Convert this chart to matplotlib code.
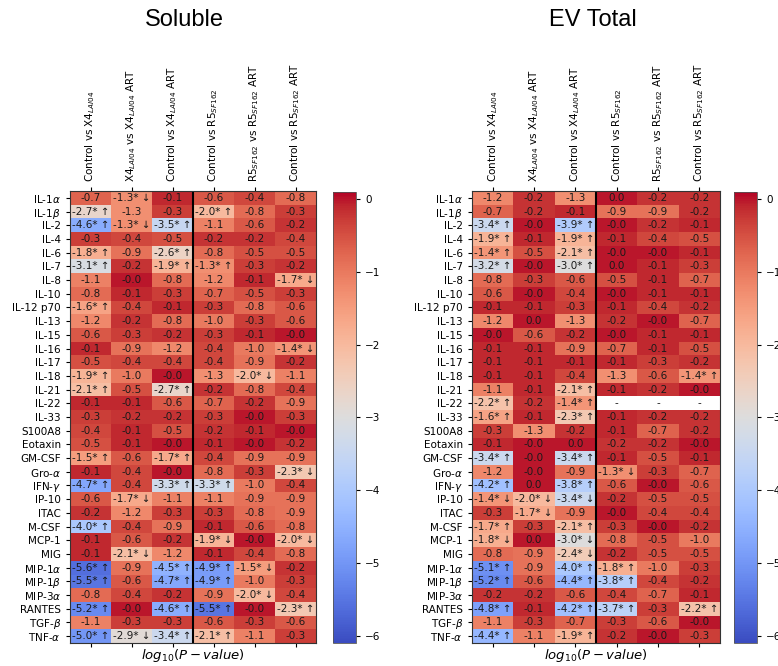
import numpy as np
import matplotlib.pyplot as plt

cytokines = ["IL-1$\\alpha$", "IL-1$\\beta$", "IL-2", "IL-4", "IL-6", "IL-7", "IL-8",
             "IL-10", "IL-12 p70", "IL-13", "IL-15", "IL-16", "IL-17", "IL-18",
             "IL-21", "IL-22", "IL-33", "S100A8", "Eotaxin", "GM-CSF",
             "Gro-$\\alpha$", "IFN-$\\gamma$", "IP-10", "ITAC", "M-CSF", "MCP-1",
             "MIG", "MIP-1$\\alpha$", "MIP-1$\\beta$", "MIP-3$\\alpha$", "RANTES",
             "TGF-$\\beta$", "TNF-$\\alpha$"]

comparisons = ["Control vs X4$_{LAI04}$",
               "X4$_{LAI04}$ vs X4$_{LAI04}$ ART",
               "Control vs X4$_{LAI04}$ ART",
               "Control vs R5$_{SF162}$",
               "R5$_{SF162}$ vs R5$_{SF162}$ ART",
               "Control vs R5$_{SF162}$ ART"]

# log10(p-value), one row per cytokine, one column per comparison
soluble_logp = [
    [-0.7, -1.3, -0.1, -0.6, -0.4, -0.8],
    [-2.7, -1.3, -0.3, -2.0, -0.8, -0.3],
    [-4.6, -1.3, -3.5, -1.1, -0.6, -0.2],
    [-0.3, -0.4, -0.5, -0.2, -0.2, -0.4],
    [-1.8, -0.9, -2.6, -0.8, -0.5, -0.5],
    [-3.1, -0.2, -1.9, -1.3, -0.3, -0.2],
    [-1.1, -0.0, -0.8, -1.2, -0.1, -1.7],
    [-0.8, -0.1, -0.3, -0.7, -0.5, -0.3],
    [-1.6, -0.4, -0.1, -0.3, -0.8, -0.6],
    [-1.2, -0.2, -0.8, -1.0, -0.3, -0.6],
    [-0.6, -0.3, -0.2, -0.3, -0.1, -0.0],
    [-0.1, -0.9, -1.2, -0.4, -1.0, -1.4],
    [-0.5, -0.4, -0.4, -0.4, -0.9, -0.2],
    [-1.9, -1.0, -0.0, -1.3, -2.0, -1.1],
    [-2.1, -0.5, -2.7, -0.2, -0.8, -0.4],
    [-0.1, -0.1, -0.6, -0.7, -0.2, -0.9],
    [-0.3, -0.2, -0.2, -0.3, -0.0, -0.3],
    [-0.4, -0.1, -0.5, -0.2, -0.1, -0.0],
    [-0.5, -0.1, -0.0, -0.1, -0.0, -0.2],
    [-1.5, -0.6, -1.7, -0.4, -0.9, -0.9],
    [-0.1, -0.4, -0.0, -0.8, -0.3, -2.3],
    [-4.7, -0.4, -3.3, -3.3, -1.0, -0.4],
    [-0.6, -1.7, -1.1, -1.1, -0.9, -0.9],
    [-0.2, -1.2, -0.3, -0.3, -0.8, -0.9],
    [-4.0, -0.4, -0.9, -0.1, -0.6, -0.8],
    [-0.1, -0.6, -0.2, -1.9, -0.0, -2.0],
    [-0.1, -2.1, -1.2, -0.1, -0.4, -0.8],
    [-5.6, -0.9, -4.5, -4.9, -1.5, -0.2],
    [-5.5, -0.6, -4.7, -4.9, -1.0, -0.3],
    [-0.8, -0.4, -0.2, -0.9, -2.0, -0.4],
    [-5.2, -0.0, -4.6, -5.5, -0.0, -2.3],
    [-1.1, -0.3, -0.3, -0.6, -0.3, -0.6],
    [-5.0, -2.9, -3.4, -2.1, -1.1, -0.3],
]

# 1 = significant, up ; -1 = significant, down ; 0 = not significant
soluble_dir = [
    [0, -1, 0, 0, 0, 0],
    [1, 0, 0, 1, 0, 0],
    [1, -1, 1, 0, 0, 0],
    [0, 0, 0, 0, 0, 0],
    [1, 0, 1, 0, 0, 0],
    [1, 0, 1, 1, 0, 0],
    [0, 0, 0, 0, 0, -1],
    [0, 0, 0, 0, 0, 0],
    [1, 0, 0, 0, 0, 0],
    [0, 0, 0, 0, 0, 0],
    [0, 0, 0, 0, 0, 0],
    [0, 0, 0, 0, 0, -1],
    [0, 0, 0, 0, 0, 0],
    [1, 0, 0, 0, -1, 0],
    [1, 0, 1, 0, 0, 0],
    [0, 0, 0, 0, 0, 0],
    [0, 0, 0, 0, 0, 0],
    [0, 0, 0, 0, 0, 0],
    [0, 0, 0, 0, 0, 0],
    [1, 0, 1, 0, 0, 0],
    [0, 0, 0, 0, 0, -1],
    [1, 0, 1, 1, 0, 0],
    [0, -1, 0, 0, 0, 0],
    [0, 0, 0, 0, 0, 0],
    [1, 0, 0, 0, 0, 0],
    [0, 0, 0, -1, 0, -1],
    [0, -1, 0, 0, 0, 0],
    [1, 0, 1, 1, -1, 0],
    [1, 0, 1, 1, 0, 0],
    [0, 0, 0, 0, -1, 0],
    [1, 0, 1, 1, 0, 1],
    [0, 0, 0, 0, 0, 0],
    [1, -1, 1, 1, 0, 0],
]

ev_logp = [
    [-1.2, -0.2, -1.3, 0.0, -0.2, -0.2],
    [-0.7, -0.2, -0.1, -0.9, -0.9, -0.2],
    [-3.4, -0.0, -3.9, -0.0, -0.2, -0.1],
    [-1.9, -0.1, -1.9, -0.1, -0.4, -0.5],
    [-1.4, -0.5, -2.1, -0.0, -0.0, -0.1],
    [-3.2, -0.0, -3.0, 0.0, -0.1, -0.3],
    [-0.8, -0.3, -0.6, -0.5, -0.1, -0.7],
    [-0.6, -0.0, -0.4, -0.0, -0.1, -0.1],
    [-0.1, -0.1, -0.3, -0.1, -0.4, -0.2],
    [-1.2, 0.0, -1.3, -0.2, -0.0, -0.7],
    [-0.0, -0.6, -0.2, -0.0, -0.1, -0.1],
    [-0.1, -0.1, -0.9, -0.7, -0.1, -0.5],
    [-0.1, -0.1, -0.1, -0.1, -0.3, -0.2],
    [-0.1, -0.1, -0.4, -1.3, -0.6, -1.4],
    [-1.1, -0.1, -2.1, -0.1, -0.2, -0.0],
    [-2.2, -0.2, -1.4, np.nan, np.nan, np.nan],
    [-1.6, -0.1, -2.3, -0.1, -0.2, -0.2],
    [-0.3, -1.3, -0.2, -0.1, -0.7, -0.2],
    [-0.1, -0.0, 0.0, -0.2, -0.2, -0.0],
    [-3.4, -0.0, -3.4, -0.1, -0.5, -0.1],
    [-1.2, -0.0, -0.9, -1.3, -0.3, -0.7],
    [-4.2, 0.0, -3.8, -0.6, -0.0, -0.6],
    [-1.4, -2.0, -3.4, -0.2, -0.5, -0.5],
    [-0.3, -1.7, -0.9, -0.0, -0.4, -0.4],
    [-1.7, -0.3, -2.1, -0.3, -0.0, -0.2],
    [-1.8, 0.0, -3.0, -0.8, -0.5, -1.0],
    [-0.8, -0.9, -2.4, -0.2, -0.5, -0.5],
    [-5.1, -0.9, -4.0, -1.8, -1.0, -0.3],
    [-5.2, -0.6, -4.4, -3.8, -0.4, -0.2],
    [-0.2, -0.2, -0.6, -0.4, -0.7, -0.1],
    [-4.8, -0.1, -4.2, -3.7, -0.3, -2.2],
    [-1.1, -0.3, -0.7, -0.3, -0.6, -0.0],
    [-4.4, -1.1, -1.9, -0.2, -0.0, -0.3],
]

ev_dir = [
    [0, 0, 0, 0, 0, 0],
    [0, 0, 0, 0, 0, 0],
    [1, 0, 1, 0, 0, 0],
    [1, 0, 1, 0, 0, 0],
    [1, 0, 1, 0, 0, 0],
    [1, 0, 1, 0, 0, 0],
    [0, 0, 0, 0, 0, 0],
    [0, 0, 0, 0, 0, 0],
    [0, 0, 0, 0, 0, 0],
    [0, 0, 0, 0, 0, 0],
    [0, 0, 0, 0, 0, 0],
    [0, 0, 0, 0, 0, 0],
    [0, 0, 0, 0, 0, 0],
    [0, 0, 0, 0, 0, 1],
    [0, 0, 1, 0, 0, 0],
    [1, 0, 1, 0, 0, 0],
    [1, 0, 1, 0, 0, 0],
    [0, 0, 0, 0, 0, 0],
    [0, 0, 0, 0, 0, 0],
    [1, 0, 1, 0, 0, 0],
    [0, 0, 0, -1, 0, 0],
    [1, 0, 1, 0, 0, 0],
    [-1, -1, -1, 0, 0, 0],
    [0, -1, 0, 0, 0, 0],
    [1, 0, 1, 0, 0, 0],
    [-1, 0, -1, 0, 0, 0],
    [0, 0, -1, 0, 0, 0],
    [1, 0, 1, 1, 0, 0],
    [1, 0, 1, 1, 0, 0],
    [0, 0, 0, 0, 0, 0],
    [1, 0, 1, 1, 0, 1],
    [0, 0, 0, 0, 0, 0],
    [1, 0, 1, 0, 0, 0],
]

VMIN, VMAX = -6.1, 0.1
W, H = 778, 666

fig = plt.figure(figsize=(W / 100, H / 100), dpi=100)


def px_axes(x0, y0, x1, y1):
    return fig.add_axes([x0 / W, 1 - y1 / H, (x1 - x0) / W, (y1 - y0) / H])


def draw(ax, cax, vals, dirs):
    arr = np.ma.masked_invalid(np.array(vals, dtype=float))
    mesh = ax.pcolormesh(arr, cmap="coolwarm", vmin=VMIN, vmax=VMAX)
    ax.set_xlim(0, len(comparisons))
    ax.set_ylim(len(cytokines), 0)
    for i, row in enumerate(vals):
        for j, v in enumerate(row):
            if np.isnan(v):
                txt = "-"
            else:
                txt = f"{v:.1f}"
                if dirs[i][j] == 1:
                    txt += "* ↑"
                elif dirs[i][j] == -1:
                    txt += "* ↓"
            ax.text(j + 0.5, i + 0.5, txt, ha="center", va="center",
                    fontsize=7.5, color="#1a1a1a")
    ax.axvline(3, color="black", lw=1.5)
    ax.set_yticks(np.arange(len(cytokines)) + 0.5)
    ax.set_yticklabels(cytokines, fontsize=7.5)
    ax.set_xticks(np.arange(len(comparisons)) + 0.5)
    ax.set_xticklabels(comparisons, rotation=90, fontsize=7.5)
    ax.tick_params(axis="x", top=True, labeltop=True, bottom=True,
                   labelbottom=False, length=3)
    ax.tick_params(axis="y", length=3)
    for s in ax.spines.values():
        s.set_color("#333333")
        s.set_linewidth(0.8)
    ax.set_xlabel("$log_{10}(P-value)$", fontsize=9.5, labelpad=0)
    cb = fig.colorbar(mesh, cax=cax)
    cb.set_ticks([0, -1, -2, -3, -4, -5, -6])
    cb.ax.tick_params(labelsize=7.5, length=3)
    cb.outline.set_linewidth(0.6)
    cb.outline.set_edgecolor("#555555")


ax1 = px_axes(70, 191, 316, 643)
cax1 = px_axes(333, 192, 356, 643)
ax2 = px_axes(472, 191, 720, 643)
cax2 = px_axes(734, 192, 757, 643)

draw(ax1, cax1, soluble_logp, soluble_dir)
draw(ax2, cax2, ev_logp, ev_dir)

fig.text(184 / W, 1 - 20 / H, "Soluble", ha="center", va="center",
         fontsize=17, family="Liberation Sans")
fig.text(593 / W, 1 - 20 / H, "EV Total", ha="center", va="center",
         fontsize=17, family="Liberation Sans")

fig.savefig("out.png", dpi=100)
